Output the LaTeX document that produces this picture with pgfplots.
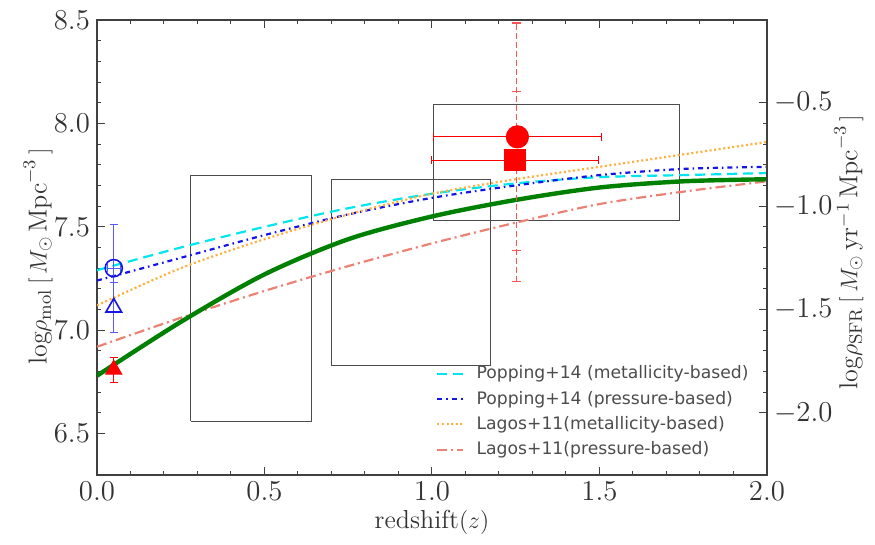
\documentclass[border=0pt]{standalone}
\usepackage{pgfplots}
\pgfplotsset{compat=1.18}
\usepackage{fontspec}
\newfontfamily\legfont{DejaVu Sans}
\definecolor{mcyan}{RGB}{0,230,240}
\definecolor{mblue}{RGB}{20,20,230}
\definecolor{morange}{RGB}{255,175,60}
\definecolor{msalmon}{RGB}{235,130,115}
\definecolor{mgreen}{RGB}{0,128,0}
\definecolor{mred}{RGB}{255,40,40}
\pgfplotsset{
  common/.style={
    scale only axis, width=335pt, height=227.5pt,
    xmin=0, xmax=2,
    tick align=inside, major tick length=4pt, minor tick length=2pt,
    axis line style={black!75, line width=0.7pt},
    tick style={black!75, line width=0.5pt},
    /pgf/number format/.cd, fixed, fixed zerofill, precision=1, /pgfplots/.cd,
    tick label style={font=\fontsize{13.5}{15}\selectfont, text=black!80},
    label style={font=\fontsize{13}{15}\selectfont, text=black!80},
  }
}
\begin{document}
\begin{tikzpicture}
\begin{axis}[common,
  ymin=6.3, ymax=8.5,
  xtick={0,0.5,1,1.5,2}, ytick={6.5,7,7.5,8,8.5},
  minor x tick num=4, minor y tick num=4,
  ytick pos=left, xtick pos=both, xticklabel pos=bottom,
  xlabel={redshift$(z)$},
  xlabel style={at={(axis description cs:0.5,-0.103)}, anchor=center},
  ylabel={${\rm log}\rho_{\rm mol}\,[\,M_\odot\,{\rm Mpc}^{-3}\,]$},
  ylabel style={at={(axis description cs:-0.088,0.48)}, anchor=center},
  legend style={at={(0.497,0.255)}, anchor=north west, draw=none, fill=none,
    font=\legfont\fontsize{8.6}{10}\selectfont, text=black!70, row sep=2.2pt,
    column sep=5pt, nodes={inner sep=1.2pt}},
  legend image code/.code={\draw[#1] (0cm,0cm) -- (0.45cm,0cm);},
  legend cell align=left,
]
\coordinate (SW) at (rel axis cs:0,0);
% boxes
\addplot[black!70, line width=0.5pt, forget plot] coordinates {(0.28,6.56) (0.64,6.56) (0.64,7.75) (0.28,7.75) (0.28,6.56)};
\addplot[black!70, line width=0.5pt, forget plot] coordinates {(0.70,6.83) (1.175,6.83) (1.175,7.73) (0.70,7.73) (0.70,6.83)};
\addplot[black!70, line width=0.5pt, forget plot] coordinates {(1.005,7.53) (1.74,7.53) (1.74,8.09) (1.005,8.09) (1.005,7.53)};
% models
\addplot[mcyan, line width=1.1pt, dash pattern=on 5pt off 3pt, smooth] coordinates {
 (0,7.29) (0.25,7.40) (0.5,7.50) (0.75,7.59) (1.0,7.66) (1.25,7.71) (1.5,7.74) (1.75,7.75) (2.0,7.76)};
\addlegendentry{Popping+14 (metallicity-based)}
\addplot[mblue, line width=1.1pt, dash pattern=on 2.5pt off 2pt on 0.8pt off 2pt, smooth] coordinates {
 (0,7.24) (0.25,7.35) (0.5,7.46) (0.75,7.56) (1.0,7.64) (1.25,7.70) (1.5,7.75) (1.75,7.78) (2.0,7.79)};
\addlegendentry{Popping+14 (pressure-based)}
\addplot[morange, line width=1.1pt, dash pattern=on 1pt off 1.3pt, smooth] coordinates {
 (0,7.12) (0.25,7.30) (0.5,7.44) (0.75,7.56) (1.0,7.66) (1.25,7.73) (1.5,7.79) (1.75,7.85) (2.0,7.91)};
\addlegendentry{Lagos+11(metallicity-based)}
\addplot[msalmon, line width=1.1pt, dash pattern=on 5pt off 2pt on 1pt off 2pt, smooth] coordinates {
 (0,6.92) (0.25,7.06) (0.5,7.19) (0.75,7.31) (1.0,7.42) (1.25,7.52) (1.5,7.61) (1.75,7.67) (2.0,7.72)};
\addlegendentry{Lagos+11(pressure-based)}
\addplot[mgreen, line width=2.2pt, smooth, forget plot] coordinates {
 (0,6.78) (0.25,7.04) (0.5,7.27) (0.75,7.44) (1.0,7.55) (1.25,7.63) (1.5,7.69) (1.75,7.72) (2.0,7.73)};
% red dashed error bars (vertical ranges and their caps)
\addplot[mred!80, line width=0.9pt, dash pattern=on 3pt off 1.5pt, forget plot] coordinates {(1.252,7.235) (1.252,8.485)};
\addplot[mred!80, line width=0.7pt, forget plot] coordinates {(1.239,8.485) (1.265,8.485)};
\addplot[mred!80, line width=0.7pt, forget plot] coordinates {(1.239,7.235) (1.265,7.235)};
\addplot[mred!80, line width=0.7pt, forget plot] coordinates {(1.239,8.155) (1.265,8.155)};
\addplot[mred!80, line width=0.7pt, forget plot] coordinates {(1.239,7.385) (1.265,7.385)};
% blue data
\addplot[blue!65, line width=0.7pt, only marks, mark=o,
  mark options={draw=mblue, mark size=4.3pt, line width=0.8pt}, forget plot,
  error bars/.cd, y dir=both, y explicit, x dir=both, x explicit]
  coordinates {(0.05,7.30) +- (0.02,0.21)};
\addplot[blue!65, line width=0.7pt, only marks, mark=triangle,
  mark options={draw=mblue, mark size=4.5pt, line width=0.8pt}, forget plot,
  error bars/.cd, y dir=both, y explicit]
  coordinates {(0.05,7.11) +- (0,0.12)};
% red data
\addplot[red, line width=0.6pt, only marks, mark=triangle*, mark options={mark size=4.5pt}, forget plot,
  error bars/.cd, y dir=both, y explicit]
  coordinates {(0.05,6.81) +- (0,0.06)};
\addplot[red, line width=0.6pt, only marks, mark=*, mark options={mark size=5.5pt}, forget plot,
  error bars/.cd, x dir=both, x explicit]
  coordinates {(1.255,7.935) +- (0.25,0)};
\addplot[red, line width=0.6pt, only marks, mark=square*, mark options={mark size=5pt}, forget plot,
  error bars/.cd, x dir=both, x explicit]
  coordinates {(1.248,7.823) +- (0.25,0)};
\end{axis}
\begin{axis}[common,
  ymin=-2.3, ymax=-0.1,
  hide x axis, axis y line*=right,
  ytick={-2,-1.5,-1,-0.5}, minor y tick num=4,
  ylabel={${\rm log}\rho_{\rm SFR}\,[\,M_\odot\,{\rm yr}^{-1}\,{\rm Mpc}^{-3}\,]$},
  ylabel style={at={(axis description cs:1.122,0.49)}, anchor=center},
]
\end{axis}
\path (SW) ++(-48.5pt,-35pt) rectangle ++(437.5pt,272.5pt);
\end{tikzpicture}
\end{document}
